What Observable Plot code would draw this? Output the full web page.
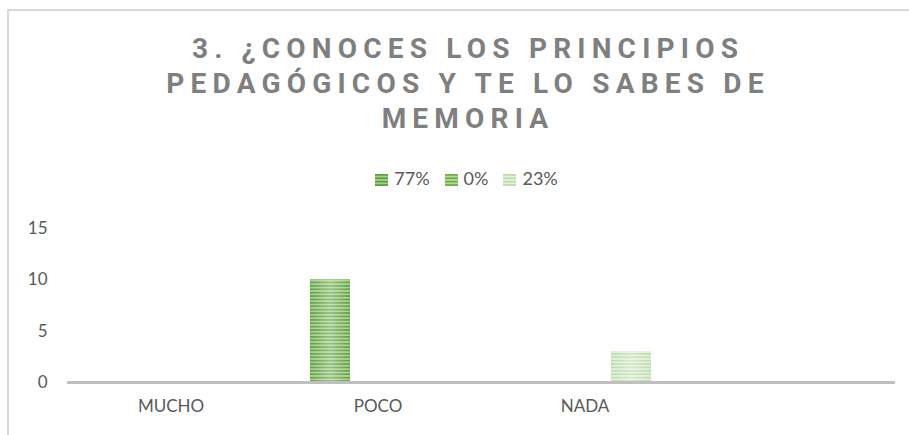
<!DOCTYPE html>
<html>
<head>
<meta charset="utf-8">
<script src="https://cdn.jsdelivr.net/npm/d3@7"></script>
<script src="https://cdn.jsdelivr.net/npm/@observablehq/plot@0.6"></script>
<style>
  html, body { margin: 0; padding: 0; background: #fff; }
  #wrap { position: relative; width: 909px; height: 435px; overflow: hidden; background: #fff; }
  #border { position: absolute; left: 7px; top: 9px; width: 960px; height: 500px;
            border-left: 2px solid #d9d9d9; border-top: 2px solid #d9d9d9; }
  #title { position: absolute; left: 8px; width: 920px; top: 31px; text-align: center;
           font-family: Roboto, "Liberation Sans", Arial, sans-serif; font-weight: bold; font-size: 28px;
           letter-spacing: 6.2px; line-height: 35px; color: #7f7f7f; }
  #legend { position: absolute; left: 8px; width: 917px; top: 167px; text-align: center;
            font-family: Lato, "Liberation Sans", sans-serif; font-size: 18px; color: #595959; }
  #legend .item { display: inline-block; margin: 0 7.5px; }
  #legend svg { vertical-align: -1px; margin-right: 6px; }
  #chart { position: absolute; left: 0; top: 200px; }
</style>
</head>
<body>
<svg width="0" height="0" style="position:absolute">
  <defs>
    <pattern id="p1" patternUnits="userSpaceOnUse" width="8" height="3.4">
      <rect width="8" height="3.4" fill="#5f9e42"/>
      <rect y="1.7" width="8" height="1.7" fill="#a6cf8c"/>
    </pattern>
    <pattern id="p2" patternUnits="userSpaceOnUse" width="8" height="3.4">
      <rect width="8" height="3.4" fill="#70ad47"/>
      <rect y="1.7" width="8" height="1.7" fill="#b4d99a"/>
    </pattern>
    <pattern id="p3" patternUnits="userSpaceOnUse" width="8" height="3.4">
      <rect width="8" height="3.4" fill="#bcdcaa"/>
      <rect y="1.7" width="8" height="1.7" fill="#e3f0da"/>
    </pattern>
    <linearGradient id="shine" x1="0" x2="1" y1="0" y2="0">
      <stop offset="0" stop-color="#ffffff" stop-opacity="0"/>
      <stop offset="0.5" stop-color="#ffffff" stop-opacity="0.35"/>
      <stop offset="1" stop-color="#ffffff" stop-opacity="0"/>
    </linearGradient>
  </defs>
</svg>
<div id="wrap">
  <div id="border"></div>
  <div id="title">3. ¿CONOCES LOS PRINCIPIOS<br>PEDAGÓGICOS Y TE LO SABES DE<br>MEMORIA</div>
  <div id="legend"></div>
  <div id="chart"></div>
</div>
<script>
// ---- data ----
const categories = ["MUCHO", "POCO", "NADA", " "];
const series = ["77%", "0%", "23%"];
const values77 = [0, 10, 0, 0];
const values0 = [0, 0, 0, 0];
const values23 = [0, 0, 3, 0];
const yTicks = [0, 5, 10, 15];
const patterns = ["url(#p1)", "url(#p2)", "url(#p3)"];

const table = [];
[values77, values0, values23].forEach((vals, si) => {
  vals.forEach((v, ci) => table.push({category: categories[ci], series: series[si], value: v}));
});

const plot = Plot.plot({
  width: 909,
  height: 235,
  marginLeft: 67,
  marginRight: 14,
  marginTop: 28,
  marginBottom: 53,
  style: {fontFamily: "Lato, 'Liberation Sans', sans-serif", fontSize: "17px", color: "#595959", background: "transparent"},
  fx: {domain: categories, padding: 0, axis: "bottom", tickSize: 0, tickPadding: 17, label: null},
  x: {domain: series, paddingInner: 0.146, paddingOuter: 0.73, axis: null},
  y: {domain: [0, 15], ticks: yTicks, tickSize: 0, tickPadding: 20, label: null},
  color: {domain: series, range: patterns},
  marks: [
    Plot.barY(table, {fx: "category", x: "series", y: "value", fill: "series"}),
    Plot.barY(table, {fx: "category", x: "series", y: "value", fill: "url(#shine)"}),
    Plot.ruleY([0], {stroke: "#bfbfbf", strokeWidth: 3})
  ]
});
document.getElementById("chart").appendChild(plot);

// ---- legend ----
const leg = d3.select("#legend");
series.forEach((s, i) => {
  const item = leg.append("span").attr("class", "item");
  const sv = item.append("svg").attr("width", 13).attr("height", 12);
  sv.append("rect").attr("width", 13).attr("height", 12).attr("fill", patterns[i]);
  item.append("span").text(s);
});
</script>
</body>
</html>
